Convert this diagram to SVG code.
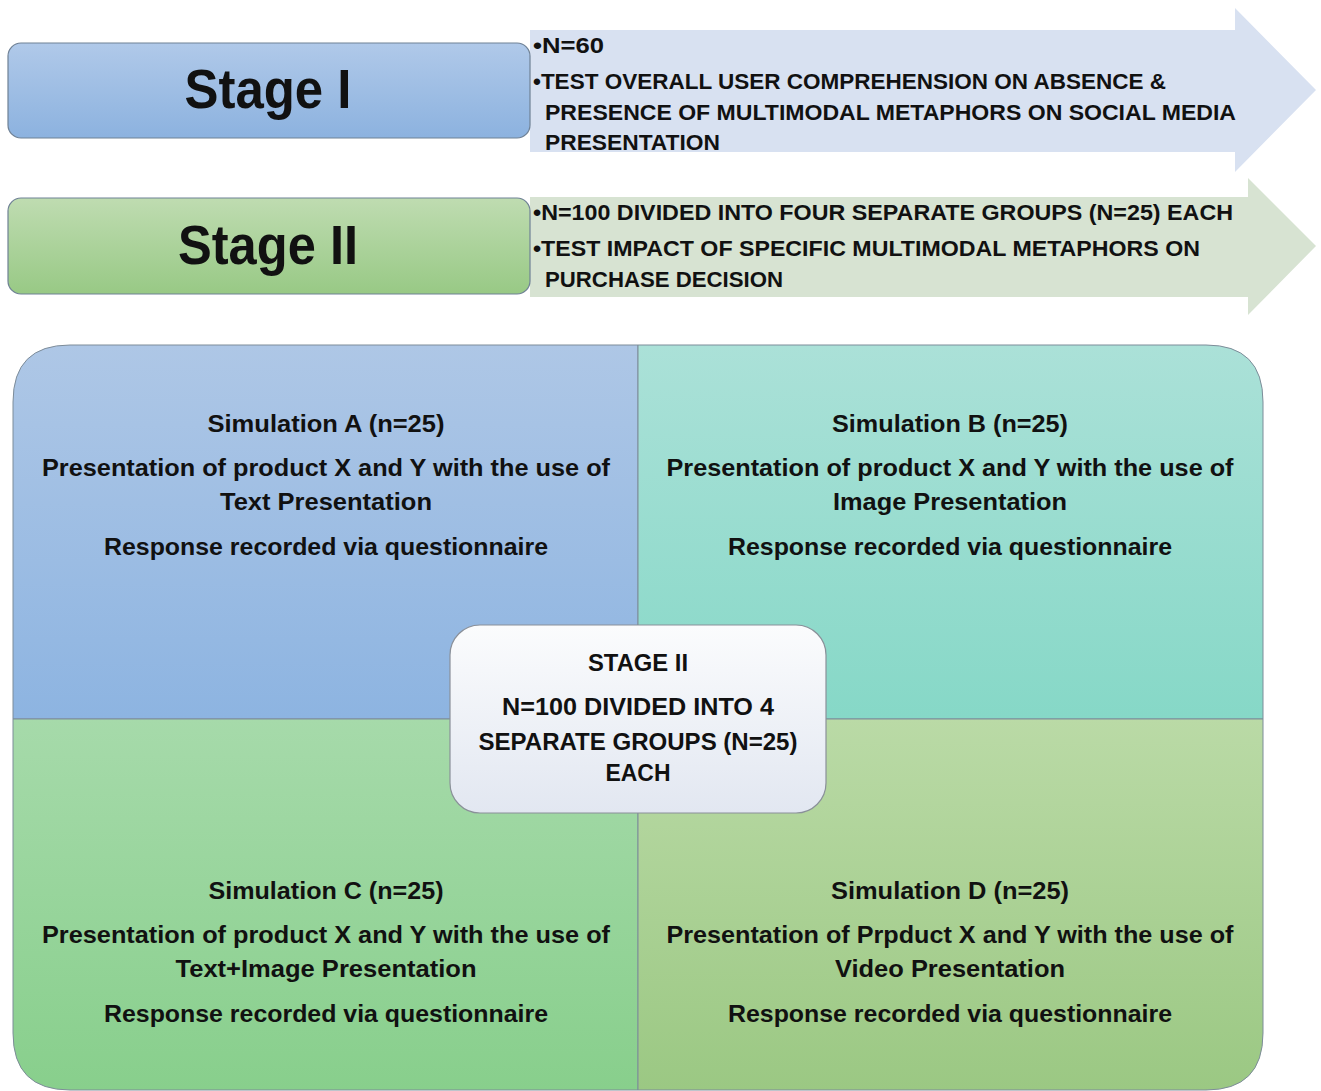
<svg xmlns="http://www.w3.org/2000/svg" width="1321" height="1091" viewBox="0 0 1321 1091">
  <defs>
    <linearGradient id="gBlue" x1="0" y1="0" x2="0" y2="1">
      <stop offset="0" stop-color="#b0c9e9"/>
      <stop offset="1" stop-color="#8cb2df"/>
    </linearGradient>
    <linearGradient id="gGreen" x1="0" y1="0" x2="0" y2="1">
      <stop offset="0" stop-color="#bfdcb1"/>
      <stop offset="1" stop-color="#98c985"/>
    </linearGradient>
    <linearGradient id="qA" x1="0" y1="0" x2="0" y2="1">
      <stop offset="0" stop-color="#aec7e6"/>
      <stop offset="1" stop-color="#8db4e1"/>
    </linearGradient>
    <linearGradient id="qB" x1="0" y1="0" x2="0" y2="1">
      <stop offset="0" stop-color="#abe1d8"/>
      <stop offset="1" stop-color="#86d8c7"/>
    </linearGradient>
    <linearGradient id="qC" x1="0" y1="0" x2="0" y2="1">
      <stop offset="0" stop-color="#a6daaa"/>
      <stop offset="1" stop-color="#88cf8c"/>
    </linearGradient>
    <linearGradient id="qD" x1="0" y1="0" x2="0" y2="1">
      <stop offset="0" stop-color="#badaa6"/>
      <stop offset="1" stop-color="#9bc883"/>
    </linearGradient>
    <linearGradient id="gCenter" x1="0" y1="0" x2="0" y2="1">
      <stop offset="0" stop-color="#fbfcfd"/>
      <stop offset="1" stop-color="#e2e7f1"/>
    </linearGradient>
  </defs>
  <style>
    text { font-family: "Liberation Sans", Arial, sans-serif; font-weight: bold; fill: #111; }
    .stage { font-size: 56px; text-anchor: middle; }
    .band { font-size: 22px; }
    .sim { font-size: 24px; text-anchor: middle; }
    .ctr { font-size: 24px; text-anchor: middle; }
    .box { stroke: #6f8195; stroke-width: 1.2; }
    .quad { stroke: #7d8c99; stroke-width: 1; }
  </style>

  <rect width="1321" height="1091" fill="#ffffff"/>

  <!-- Stage I header with its arrow band -->
  <g id="stage1-arrow">
    <path d="M530,30 H1235 V8 L1316,90 L1235,172 V152 H530 Z" fill="#d8e1f1"/>
    <text class="band" x="533" y="53" textLength="71" lengthAdjust="spacingAndGlyphs">•N=60</text>
    <text class="band" x="533" y="89" textLength="633" lengthAdjust="spacingAndGlyphs">•TEST OVERALL USER COMPREHENSION ON ABSENCE &amp;</text>
    <text class="band" x="545" y="120" textLength="691" lengthAdjust="spacingAndGlyphs">PRESENCE OF MULTIMODAL METAPHORS ON SOCIAL MEDIA</text>
    <text class="band" x="545" y="150" textLength="175" lengthAdjust="spacingAndGlyphs">PRESENTATION</text>
  </g>
  <g id="stage1">
    <rect class="box" x="8" y="43" width="522" height="95" rx="13" fill="url(#gBlue)"/>
    <text class="stage" x="268" y="108" textLength="167" lengthAdjust="spacingAndGlyphs">Stage I</text>
  </g>

  <!-- Stage II header with its arrow band -->
  <g id="stage2-arrow">
    <path d="M530,197 H1248 V178 L1316,246 L1248,315 V297 H530 Z" fill="#d7e3d2"/>
    <text class="band" x="533" y="220" textLength="700" lengthAdjust="spacingAndGlyphs">•N=100 DIVIDED INTO FOUR SEPARATE GROUPS (N=25) EACH</text>
    <text class="band" x="533" y="256" textLength="667" lengthAdjust="spacingAndGlyphs">•TEST IMPACT OF SPECIFIC MULTIMODAL METAPHORS ON</text>
    <text class="band" x="545" y="287" textLength="238" lengthAdjust="spacingAndGlyphs">PURCHASE DECISION</text>
  </g>
  <g id="stage2">
    <rect class="box" x="8" y="198" width="522" height="96" rx="13" fill="url(#gGreen)"/>
    <text class="stage" x="268" y="264" textLength="180" lengthAdjust="spacingAndGlyphs">Stage II</text>
  </g>

  <!-- Four-quadrant matrix -->
  <g id="simA">
    <path class="quad" d="M13,719 V402 Q13,345 70,345 H638 V719 Z" fill="url(#qA)"/>
    <text class="sim" x="326" y="432" textLength="237" lengthAdjust="spacingAndGlyphs">Simulation A (n=25)</text>
    <text class="sim" x="326" y="476" textLength="568" lengthAdjust="spacingAndGlyphs">Presentation of product X and Y with the use of</text>
    <text class="sim" x="326" y="510" textLength="212" lengthAdjust="spacingAndGlyphs">Text Presentation</text>
    <text class="sim" x="326" y="555" textLength="444" lengthAdjust="spacingAndGlyphs">Response recorded via questionnaire</text>
  </g>
  <g id="simB">
    <path class="quad" d="M638,345 H1206 Q1263,345 1263,402 V719 H638 Z" fill="url(#qB)"/>
    <text class="sim" x="950" y="432" textLength="236" lengthAdjust="spacingAndGlyphs">Simulation B (n=25)</text>
    <text class="sim" x="950" y="476" textLength="567" lengthAdjust="spacingAndGlyphs">Presentation of product X and Y with the use of</text>
    <text class="sim" x="950" y="510" textLength="234" lengthAdjust="spacingAndGlyphs">Image Presentation</text>
    <text class="sim" x="950" y="555" textLength="444" lengthAdjust="spacingAndGlyphs">Response recorded via questionnaire</text>
  </g>
  <g id="simC">
    <path class="quad" d="M13,719 H638 V1090 H70 Q13,1090 13,1033 Z" fill="url(#qC)"/>
    <text class="sim" x="326" y="899" textLength="235" lengthAdjust="spacingAndGlyphs">Simulation C (n=25)</text>
    <text class="sim" x="326" y="943" textLength="568" lengthAdjust="spacingAndGlyphs">Presentation of product X and Y with the use of</text>
    <text class="sim" x="326" y="977" textLength="301" lengthAdjust="spacingAndGlyphs">Text+Image Presentation</text>
    <text class="sim" x="326" y="1022" textLength="444" lengthAdjust="spacingAndGlyphs">Response recorded via questionnaire</text>
  </g>
  <g id="simD">
    <path class="quad" d="M638,719 H1263 V1033 Q1263,1090 1206,1090 H638 Z" fill="url(#qD)"/>
    <text class="sim" x="950" y="899" textLength="238" lengthAdjust="spacingAndGlyphs">Simulation D (n=25)</text>
    <text class="sim" x="950" y="943" textLength="567" lengthAdjust="spacingAndGlyphs">Presentation of Prpduct X and Y with the use of</text>
    <text class="sim" x="950" y="977" textLength="230" lengthAdjust="spacingAndGlyphs">Video Presentation</text>
    <text class="sim" x="950" y="1022" textLength="444" lengthAdjust="spacingAndGlyphs">Response recorded via questionnaire</text>
  </g>

  <!-- Central summary box -->
  <g id="center">
    <rect x="450" y="625" width="376" height="188" rx="30" fill="url(#gCenter)" stroke="#8a9099" stroke-width="1.2"/>
    <text class="ctr" x="638" y="671" textLength="100" lengthAdjust="spacingAndGlyphs">STAGE II</text>
    <text class="ctr" x="638" y="715" textLength="272" lengthAdjust="spacingAndGlyphs">N=100 DIVIDED INTO 4</text>
    <text class="ctr" x="638" y="750" textLength="319" lengthAdjust="spacingAndGlyphs">SEPARATE GROUPS (N=25)</text>
    <text class="ctr" x="638" y="781" textLength="65" lengthAdjust="spacingAndGlyphs">EACH</text>
  </g>

  <g id="connectors"/>
</svg>
